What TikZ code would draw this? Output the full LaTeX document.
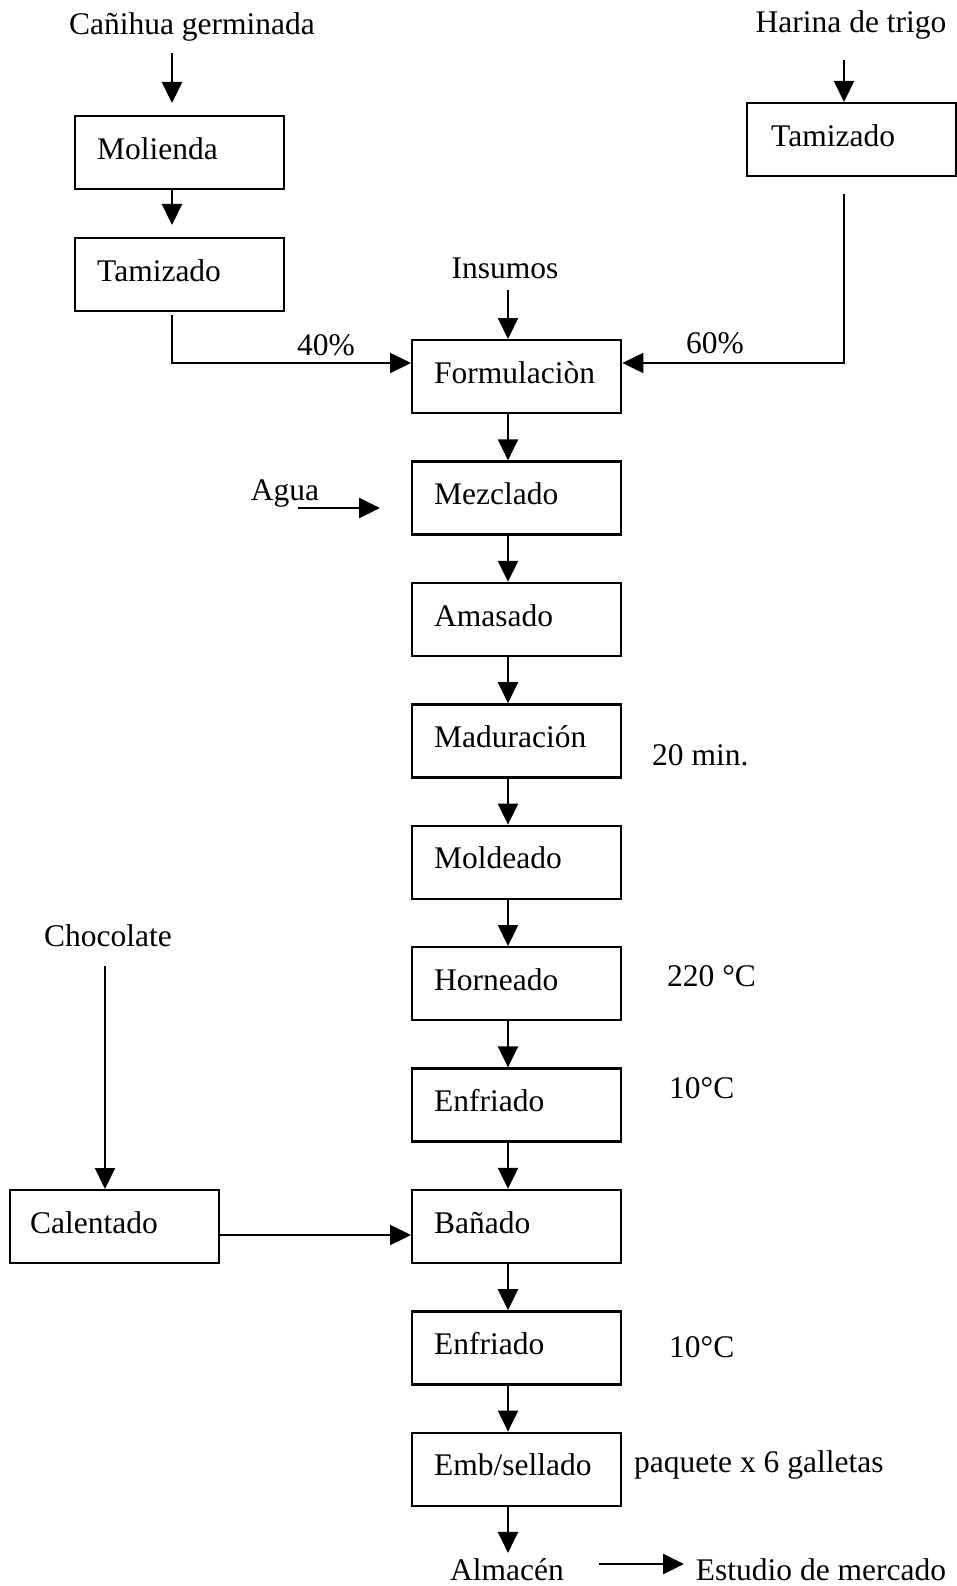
\documentclass[tikz,border=0pt]{standalone}
\usepackage{fontspec}
\setmainfont{Liberation Serif}
\usetikzlibrary{arrows.meta,calc}
\begin{document}
\begin{tikzpicture}[x=1pt,y=-1pt,
  every node/.style={font=\fontsize{31.5}{36}\selectfont},
  proc/.style={draw, line width=2.4pt, rectangle, minimum width=209pt,
    minimum height=73pt, text width=165pt, inner xsep=22pt, align=left,
    text height=20pt, text depth=7pt, anchor=north west},
  lbl/.style={anchor=base, inner sep=0pt},
  note/.style={anchor=base west, inner sep=0pt},
  arr/.style={line width=2.2pt, -{Triangle[length=21pt,width=20pt]}},
  ln/.style={line width=2.2pt}]
\useasboundingbox (0,0) rectangle (956,1586);

% ---- process boxes ----
\node[proc] (mol)  at (74,115)    {Molienda};
\node[proc] (tamL) at (74,237)    {Tamizado};
\node[proc, inner xsep=24pt, text width=161pt] (tamR) at (746,102) {Tamizado};
\node[proc] (form) at (411,339)   {Formulaciòn};
\node[proc] (mez)  at (411,460.4) {Mezclado};
\node[proc] (ama)  at (411,581.8) {Amasado};
\node[proc] (mad)  at (411,703.2) {Maduración};
\node[proc] (mold) at (411,824.6) {Moldeado};
\node[proc] (hor)  at (411,946)   {Horneado};
\node[proc] (enfA) at (411,1067.4){Enfriado};
\node[proc] (ban)  at (411,1188.8){Bañado};
\node[proc] (enfB) at (411,1310.2){Enfriado};
\node[proc] (emb)  at (411,1431.6){Emb/sellado};
\node[proc, inner xsep=20pt, text width=169pt] (cal) at (9,1189) {Calentado};

% ---- inputs and outputs ----
\node[lbl] (can) at (192,35)  {Cañihua germinada};
\node[lbl] (har) at (851,33)  {Harina de trigo};
\node[lbl] (ins) at (505,279) {Insumos};
\node[lbl] (agu) at (285,500) {Agua};
\node[lbl] (cho) at (108,946) {Chocolate};
\node[lbl] (alm) at (507,1580){Almacén};
\node[lbl] (est) at (821,1580){Estudio de mercado};

% ---- percentages and conditions ----
\node[lbl] (p40) at (326,355) {40\%};
\node[lbl] (p60) at (715,353) {60\%};
\node[note] (t20)  at (652,765)  {20 min.};
\node[note] (t220) at (667,986)  {220 °C};
\node[note] (t10a) at (669,1098) {10°C};
\node[note] (t10b) at (669,1357) {10°C};
\node[note] (paq)  at (634,1472) {paquete x 6 galletas};

% ---- helper coordinates ----
\coordinate (xL) at (172,0);
\coordinate (xR) at (844,0);
\coordinate (xM) at (508,0);
\coordinate (xC) at (105,0);
\coordinate (yMix) at (0,363);
\coordinate (yCal) at (0,1235);
\coordinate (canS) at (172,53);
\coordinate (tamLS) at (172,315);
\coordinate (harS) at (844,60);
\coordinate (tamRS) at (844,194);
\coordinate (insS) at (508,290);
\coordinate (aguS) at (298,508);
\coordinate (aguE) at (380,508);
\coordinate (choS) at (105,966);
\coordinate (almS) at (599,1564);
\coordinate (almE) at (684,1564);

% ---- left branch ----
\draw[arr, shorten >=12pt] (canS) -- (mol.north -| xL);
\draw[arr, shorten >=12pt] (mol.south -| xL) -- (tamL.north -| xL);
\draw[arr] (tamLS) |- (form.west |- yMix);

% ---- right branch ----
\draw[arr] (harS) -- (tamR.north -| xR);
\draw[arr] (tamRS) |- (form.east |- yMix);

% ---- main line ----
\draw[arr] (insS) -- (form.north -| xM);
\draw[arr] (aguS) -- (aguE);
\draw[arr] (form.south -| xM) -- (mez.north -| xM);
\draw[arr] (mez.south -| xM)  -- (ama.north -| xM);
\draw[arr] (ama.south -| xM)  -- (mad.north -| xM);
\draw[arr] (mad.south -| xM)  -- (mold.north -| xM);
\draw[arr] (mold.south -| xM) -- (hor.north -| xM);
\draw[arr] (hor.south -| xM)  -- (enfA.north -| xM);
\draw[arr] (enfA.south -| xM) -- (ban.north -| xM);
\draw[arr] (ban.south -| xM)  -- (enfB.north -| xM);
\draw[arr] (enfB.south -| xM) -- (emb.north -| xM);
\draw[arr, shorten >=5pt] (emb.south -| xM) -- (alm.north -| xM);

% ---- chocolate coating ----
\draw[arr] (choS) -- (cal.north -| xC);
\draw[arr] (cal.east |- yCal) -- (ban.west |- yCal);

% ---- storage ----
\draw[arr] (almS) -- (almE);
\end{tikzpicture}
\end{document}
